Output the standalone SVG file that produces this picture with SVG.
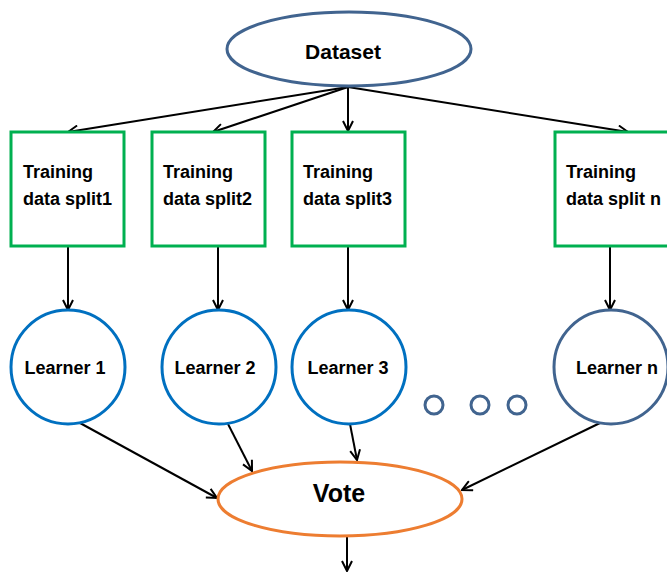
<svg xmlns="http://www.w3.org/2000/svg" width="667" height="574" viewBox="0 0 667 574">
<style>
text{font-family:"Liberation Sans",Arial,sans-serif;font-weight:bold;fill:#000}
.box{fill:#fff;stroke:#00B050;stroke-width:3}
.lc{fill:#fff;stroke:#0070C0;stroke-width:3}
.ls{fill:#fff;stroke:#41648F;stroke-width:3}
.cn{fill:none;stroke:#000;stroke-width:2;marker-end:url(#ah)}
.t{font-size:18px}
</style>
<defs>
<marker id="ah" viewBox="0 0 12 12" refX="11" refY="6" markerWidth="12" markerHeight="12" markerUnits="userSpaceOnUse" orient="auto">
<path d="M1,1 L11,6 L1,11" fill="none" stroke="#000" stroke-width="2"/>
</marker>
</defs>
<g id="connectors">
<line class="cn" x1="348" y1="87" x2="68" y2="132"/>
<line class="cn" x1="348" y1="87" x2="213" y2="132"/>
<line class="cn" x1="348" y1="87" x2="348" y2="131"/>
<line class="cn" x1="348" y1="87" x2="628" y2="132"/>
<line class="cn" x1="68" y1="246" x2="68" y2="310"/>
<line class="cn" x1="218" y1="246" x2="218" y2="310"/>
<line class="cn" x1="348" y1="246" x2="348" y2="310"/>
<line class="cn" x1="610" y1="246" x2="610" y2="310"/>
<line class="cn" x1="80" y1="423" x2="217" y2="498"/>
<line class="cn" x1="228" y1="424" x2="252" y2="471"/>
<line class="cn" x1="350" y1="424" x2="357" y2="460"/>
<line class="cn" x1="600" y1="423" x2="462" y2="490"/>
<line class="cn" x1="347" y1="537" x2="347" y2="571"/>
</g>
<g id="dataset">
<ellipse cx="349" cy="49" rx="122" ry="37" fill="#fff" stroke="#41648F" stroke-width="3"/>
<text x="343" y="59" font-size="21" text-anchor="middle">Dataset</text>
</g>
<g id="split1">
<rect class="box" x="11" y="132" width="113" height="114"/>
<text class="t" x="23" y="178">Training</text>
<text class="t" x="23" y="205">data split1</text>
</g>
<g id="split2">
<rect class="box" x="152" y="132" width="113" height="114"/>
<text class="t" x="163" y="178">Training</text>
<text class="t" x="163" y="205">data split2</text>
</g>
<g id="split3">
<rect class="box" x="292" y="132" width="113" height="114"/>
<text class="t" x="303" y="178">Training</text>
<text class="t" x="303" y="205">data split3</text>
</g>
<g id="splitn">
<rect class="box" x="555" y="132" width="120" height="114"/>
<text class="t" x="566" y="178">Training</text>
<text class="t" x="566" y="205">data split n</text>
</g>
<g id="learner1">
<circle class="lc" cx="68" cy="367" r="57"/>
<text class="t" x="65" y="374" text-anchor="middle">Learner 1</text>
</g>
<g id="learner2">
<circle class="lc" cx="219" cy="367" r="57"/>
<text class="t" x="215" y="374" text-anchor="middle">Learner 2</text>
</g>
<g id="learner3">
<circle class="lc" cx="349" cy="367" r="57"/>
<text class="t" x="348" y="374" text-anchor="middle">Learner 3</text>
</g>
<g id="learnern">
<circle class="ls" cx="611" cy="367" r="57"/>
<text class="t" x="617" y="374" text-anchor="middle">Learner n</text>
</g>
<g id="dots">
<circle class="ls" cx="434" cy="405" r="9"/>
<circle class="ls" cx="480" cy="405" r="9"/>
<circle class="ls" cx="517" cy="405" r="9"/>
</g>
<g id="vote">
<ellipse cx="340" cy="499" rx="122" ry="37" fill="#fff" stroke="#ED7D31" stroke-width="3"/>
<text x="339" y="502" font-size="25" text-anchor="middle">Vote</text>
</g>
</svg>
